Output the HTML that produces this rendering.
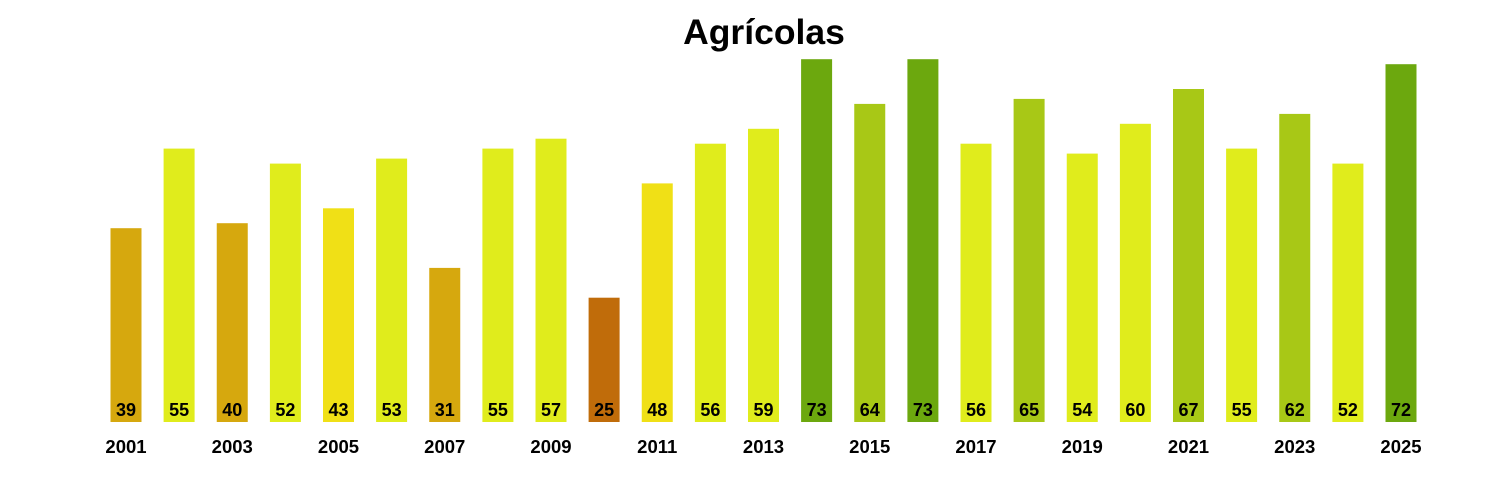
<!DOCTYPE html>
<html><head><meta charset="utf-8"><style>
html,body{margin:0;padding:0;background:#fff;width:1500px;height:500px;overflow:hidden}
text{font-family:"Liberation Sans",Arial,sans-serif;font-weight:bold}
</style></head><body>
<svg width="1500" height="500" xmlns="http://www.w3.org/2000/svg">
<text x="764" y="44" font-size="35.5" text-anchor="middle">Agrícolas</text>
<g>
<rect x="110.5" y="228.2" width="31" height="193.8" fill="#d6a80e"/>
<rect x="163.6" y="148.6" width="31" height="273.4" fill="#e0ec1c"/>
<rect x="216.75" y="223.2" width="31" height="198.8" fill="#d6a80e"/>
<rect x="269.9" y="163.6" width="31" height="258.4" fill="#e0ec1c"/>
<rect x="323" y="208.3" width="31" height="213.7" fill="#f0e016"/>
<rect x="376.1" y="158.6" width="31" height="263.4" fill="#e0ec1c"/>
<rect x="429.25" y="267.9" width="31" height="154.1" fill="#d6a80e"/>
<rect x="482.4" y="148.6" width="31" height="273.4" fill="#e0ec1c"/>
<rect x="535.5" y="138.7" width="31" height="283.3" fill="#e0ec1c"/>
<rect x="588.6" y="297.7" width="31" height="124.3" fill="#c06c0a"/>
<rect x="641.75" y="183.4" width="31" height="238.6" fill="#f0e016"/>
<rect x="694.9" y="143.7" width="31" height="278.3" fill="#e0ec1c"/>
<rect x="748" y="128.8" width="31" height="293.2" fill="#e0ec1c"/>
<rect x="801.1" y="59.2" width="31" height="362.8" fill="#6ca80e"/>
<rect x="854.25" y="103.9" width="31" height="318.1" fill="#a8c816"/>
<rect x="907.4" y="59.2" width="31" height="362.8" fill="#6ca80e"/>
<rect x="960.5" y="143.7" width="31" height="278.3" fill="#e0ec1c"/>
<rect x="1013.6" y="98.9" width="31" height="323.1" fill="#a8c816"/>
<rect x="1066.75" y="153.6" width="31" height="268.4" fill="#e0ec1c"/>
<rect x="1119.9" y="123.8" width="31" height="298.2" fill="#e0ec1c"/>
<rect x="1173" y="89" width="31" height="333" fill="#a8c816"/>
<rect x="1226.1" y="148.6" width="31" height="273.4" fill="#e0ec1c"/>
<rect x="1279.25" y="113.9" width="31" height="308.1" fill="#a8c816"/>
<rect x="1332.4" y="163.6" width="31" height="258.4" fill="#e0ec1c"/>
<rect x="1385.5" y="64.2" width="31" height="357.8" fill="#6ca80e"/>
</g>
<g font-size="18" text-anchor="middle">
<text x="126" y="416">39</text><text x="179.1" y="416">55</text><text x="232.25" y="416">40</text><text x="285.4" y="416">52</text><text x="338.5" y="416">43</text><text x="391.6" y="416">53</text><text x="444.75" y="416">31</text><text x="497.9" y="416">55</text><text x="551" y="416">57</text><text x="604.1" y="416">25</text><text x="657.25" y="416">48</text><text x="710.4" y="416">56</text><text x="763.5" y="416">59</text><text x="816.6" y="416">73</text><text x="869.75" y="416">64</text><text x="922.9" y="416">73</text><text x="976" y="416">56</text><text x="1029.1" y="416">65</text><text x="1082.25" y="416">54</text><text x="1135.4" y="416">60</text><text x="1188.5" y="416">67</text><text x="1241.6" y="416">55</text><text x="1294.75" y="416">62</text><text x="1347.9" y="416">52</text><text x="1401" y="416">72</text>
</g>
<g font-size="18.5" text-anchor="middle">
<text x="126" y="453">2001</text><text x="232.25" y="453">2003</text><text x="338.5" y="453">2005</text><text x="444.75" y="453">2007</text><text x="551" y="453">2009</text><text x="657.25" y="453">2011</text><text x="763.5" y="453">2013</text><text x="869.75" y="453">2015</text><text x="976" y="453">2017</text><text x="1082.25" y="453">2019</text><text x="1188.5" y="453">2021</text><text x="1294.75" y="453">2023</text><text x="1401" y="453">2025</text>
</g>
</svg>
</body></html>
